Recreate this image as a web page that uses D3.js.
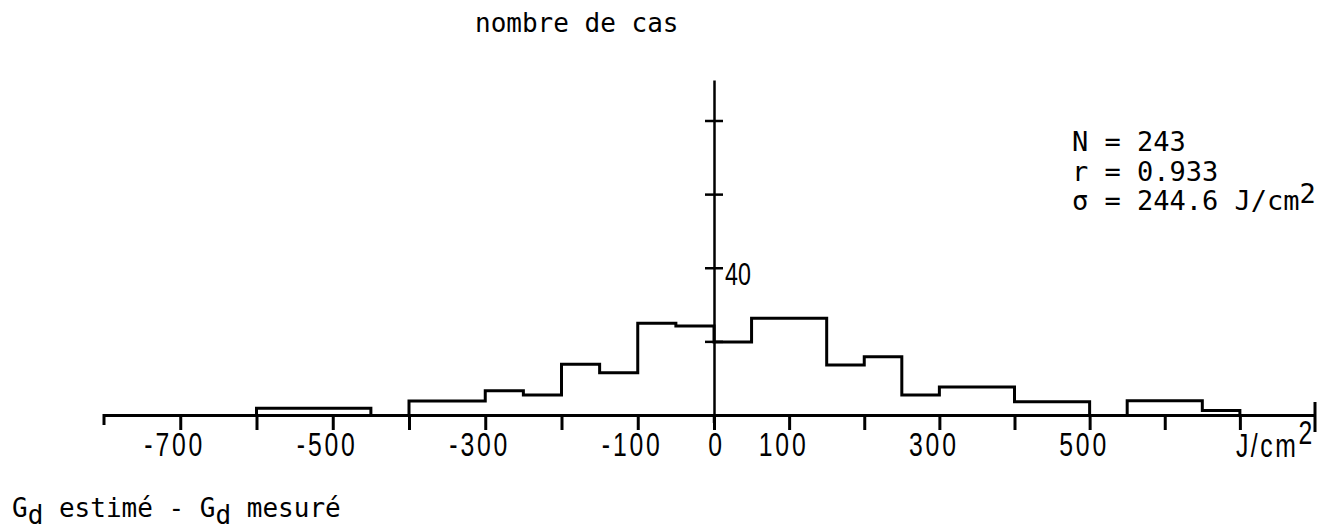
<!DOCTYPE html>
<html>
<head>
<meta charset="utf-8">
<script src="https://cdn.jsdelivr.net/npm/d3@7"></script>
<style>
  html, body { margin: 0; padding: 0; background: #fff; }
  svg { display: block; }
</style>
</head>
<body>
<svg id="chart" width="1331" height="529"></svg>
<script>
// ---- data ----
const binLow  = [-600, -400, -300, -250, -200, -150, -100, -50,   0,   50, 150, 200, 250, 300, 400, 550, 650];
const binHigh = [-450, -300, -250, -200, -150, -100,  -50,   0,  50,  150, 200, 250, 300, 400, 500, 650, 700];
const counts  = [ 1.8,  3.8,  6.6,  5.4, 13.8, 11.5, 24.9, 24.2, 19.8, 26.3, 13.6, 15.8, 5.4, 7.6, 3.6, 3.9, 1.2];

const xTicks = [-700, -600, -500, -400, -300, -200, -100, 0, 100, 200, 300, 400, 500, 600, 700];
const xTickLabels = ["-700", "", "-500", "", "-300", "", "-100", "0", "100", "", "300", "", "500", "", ""];
const yTicks = [20, 40, 60, 80];
const yTickLabels = ["", "40", "", ""];

const yTitle = "nombre de cas";
const statLines = ["N = 243", "r = 0.933", "σ = 244.6 J/cm"];
const unitLabel = "J/cm";

// ---- drawing ----
const svg = d3.select("#chart");
svg.append("rect").attr("width", 1331).attr("height", 529).attr("fill", "#fff");

const x = d3.scaleLinear().domain([-800, 0, 800]).range([104, 714, 1315]);
const y = d3.scaleLinear().domain([0, 91]).range([415, 80]);

const SANS = "'Liberation Sans', Arial, sans-serif";
const MONO = "'DejaVu Sans Mono', monospace";
const SX = 0.75;

// X axis
const xAxis = d3.axisBottom(x)
  .tickValues(xTicks)
  .tickSizeInner(15)
  .tickSizeOuter(0)
  .tickFormat((d, i) => xTickLabels[i]);

const gx = svg.append("g").attr("transform", `translate(0,${y(0)})`).call(xAxis);
gx.select(".domain").attr("stroke", "#000").attr("stroke-width", 3);
gx.selectAll(".tick line").attr("stroke", "#000").attr("stroke-width", 3);
gx.selectAll(".tick text")
  .attr("fill", "#000")
  .attr("font-family", SANS)
  .attr("font-size", 33)
  .attr("letter-spacing", 3.8)
  .attr("y", 41)
  .attr("dy", 0)
  .attr("x", d => (d === 0 ? 2 : -6) / SX)
  .attr("transform", `scale(${SX},1)`);

// end hooks of the x axis
svg.append("line").attr("x1", x(-800)).attr("x2", x(-800))
  .attr("y1", y(0) - 1).attr("y2", y(0) + 10)
  .attr("stroke", "#000").attr("stroke-width", 3);
svg.append("line").attr("x1", x(800)).attr("x2", x(800))
  .attr("y1", y(0) - 13).attr("y2", y(0) + 17)
  .attr("stroke", "#000").attr("stroke-width", 3);

// unit label at the end of the x axis
const ul = svg.append("text")
  .attr("transform", `translate(${x(700) - 4},${y(0) + 42}) scale(${SX},1)`)
  .attr("font-family", SANS).attr("font-size", 33).attr("letter-spacing", 3.5)
  .attr("fill", "#000");
ul.append("tspan").text(unitLabel);
ul.append("tspan").attr("dy", -13).text("2");

// Y axis
const yAxis = d3.axisLeft(y)
  .tickValues(yTicks)
  .tickSizeInner(9)
  .tickSizeOuter(0)
  .tickFormat((d, i) => yTickLabels[i]);

const gy = svg.append("g").attr("transform", `translate(${x(0)},0)`).call(yAxis);
gy.select(".domain").attr("stroke", "#000").attr("stroke-width", 2.5);
gy.selectAll(".tick line").attr("stroke", "#000").attr("stroke-width", 2.5)
  .attr("x1", -9).attr("x2", 9);
gy.selectAll(".tick text")
  .attr("fill", "#000")
  .attr("font-family", SANS)
  .attr("font-size", 31)
  .attr("text-anchor", "start")
  .attr("x", 11 / SX)
  .attr("y", 17)
  .attr("dy", 0)
  .attr("transform", `scale(${SX},1)`);
// small extension of the y axis below the baseline
svg.append("line").attr("x1", x(0)).attr("x2", x(0))
  .attr("y1", y(0)).attr("y2", y(0) + 8)
  .attr("stroke", "#000").attr("stroke-width", 2.5);

// Histogram as step outlines, grouped by contiguous bins
const groups = [];
binLow.forEach((lo, i) => {
  const bin = { lo, hi: binHigh[i], c: counts[i] };
  const last = groups[groups.length - 1];
  if (last && last[last.length - 1].hi === lo) last.push(bin);
  else groups.push([bin]);
});
const line = d3.line().x(d => x(d[0])).y(d => y(d[1]));
groups.forEach(g => {
  const pts = [[g[0].lo, 0]];
  g.forEach(b => { pts.push([b.lo, b.c]); pts.push([b.hi, b.c]); });
  pts.push([g[g.length - 1].hi, 0]);
  svg.append("path").attr("d", line(pts))
    .attr("fill", "none").attr("stroke", "#000")
    .attr("stroke-width", 3).attr("stroke-linejoin", "miter");
});

// Title above y axis
svg.append("text").attr("x", 475).attr("y", 32)
  .attr("font-family", MONO).attr("font-size", 26).attr("fill", "#000")
  .text(yTitle);

// Statistics block
const st = svg.append("g").attr("font-family", MONO).attr("font-size", 27).attr("fill", "#000");
statLines.forEach((s, i) => {
  const t = st.append("text").attr("x", 1072).attr("y", 151 + i * 29.5);
  t.append("tspan").text(s);
  if (i === statLines.length - 1) t.append("tspan").attr("dy", -7).text("2");
});

// Bottom label: Gd estimé - Gd mesuré
const bl = svg.append("text").attr("x", 12).attr("y", 517)
  .attr("font-family", MONO).attr("font-size", 26).attr("fill", "#000");
bl.append("tspan").text("G");
bl.append("tspan").attr("dy", 7).text("d");
bl.append("tspan").attr("dy", -7).text(" estimé - G");
bl.append("tspan").attr("dy", 7).text("d");
bl.append("tspan").attr("dy", -7).text(" mesuré");
</script>
</body>
</html>
